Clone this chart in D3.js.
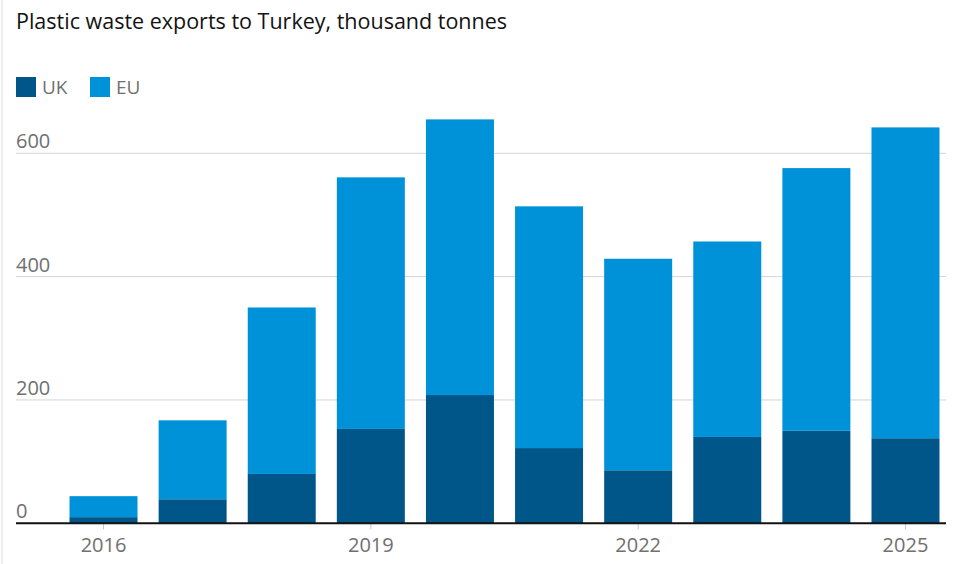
<!DOCTYPE html>
<html>
<head>
<meta charset="utf-8">
<script src="https://cdn.jsdelivr.net/npm/d3@7"></script>
<style>
  body { margin: 0; background: #fff; }
  text { font-family: "Open Sans", sans-serif; }
</style>
</head>
<body>
<div id="chart"></div>
<script>
// data, thousand tonnes
var years = ["2016", "2017", "2018", "2019", "2020", "2021", "2022", "2023", "2024", "2025"];
var ukValues = [10, 39, 80, 153, 208, 122, 86, 140, 150, 138];
var euValues = [34, 128, 270, 408, 447, 392, 343, 317, 426, 504];
var yTicks = [0, 200, 400, 600];
var xTickLabels = ["2016", "2019", "2022", "2025"];
var seriesNames = ["UK", "EU"];
var colors = ["#005689", "#0092d8"];

var width = 956, height = 564;

var svg = d3.select("#chart").append("svg")
    .attr("width", width)
    .attr("height", height);

// left border line
svg.append("line")
    .attr("x1", 2).attr("x2", 2)
    .attr("y1", 0).attr("y2", height)
    .attr("stroke", "#dcdcdc").attr("stroke-width", 1);

// title
svg.append("text")
    .attr("x", 16).attr("y", 29)
    .attr("font-size", 21.5)
    .attr("fill", "#121212")
    .text("Plastic waste exports to Turkey, thousand tonnes");

// legend
var legend = svg.selectAll("g.legend")
    .data(seriesNames).enter()
    .append("g")
    .attr("class", "legend")
    .attr("transform", function(d, i) { return "translate(" + (16 + i * 74) + ",77)"; });
legend.append("rect")
    .attr("width", 20).attr("height", 20)
    .attr("fill", function(d, i) { return colors[i]; });
legend.append("text")
    .attr("x", 26).attr("y", 17)
    .attr("font-size", 19)
    .attr("fill", "#707070")
    .text(function(d) { return d; });

// scales
var x = d3.scaleBand()
    .domain(years)
    .range([59, 950])
    .paddingInner(0.237)
    .paddingOuter(0.118);

var y = d3.scaleLinear()
    .domain([0, 600])
    .range([523.3, 153.3]);

// gridlines + y labels
var grid = svg.selectAll("g.grid")
    .data(yTicks).enter()
    .append("g")
    .attr("class", "grid");
grid.filter(function(d) { return d != 0; })
    .append("line")
    .attr("x1", 16).attr("x2", 946)
    .attr("y1", function(d) { return y(d); })
    .attr("y2", function(d) { return y(d); })
    .attr("stroke", "#d4d4d4").attr("stroke-width", 1);
grid.append("text")
    .attr("x", 16)
    .attr("y", function(d) { return y(d) - 5; })
    .attr("font-size", 20)
    .attr("fill", "#707070")
    .text(function(d) { return d; });

// stacked bars
var rows = years.map(function(yr, i) { return { year: yr, UK: ukValues[i], EU: euValues[i] }; });
var stacked = d3.stack().keys(seriesNames)(rows);

svg.selectAll("g.series")
    .data(stacked).enter()
    .append("g")
    .attr("class", "series")
    .attr("fill", function(d, i) { return colors[i]; })
    .selectAll("rect")
    .data(function(d) { return d; }).enter()
    .append("rect")
    .attr("x", function(d) { return x(d.data.year); })
    .attr("width", x.bandwidth())
    .attr("y", function(d) { return y(d[1]); })
    .attr("height", function(d) { return y(d[0]) - y(d[1]); });

// x axis
var xAxis = d3.axisBottom(x)
    .tickValues(xTickLabels)
    .tickSize(6)
    .tickPadding(9);
var gx = svg.append("g")
    .attr("transform", "translate(0," + y(0) + ")")
    .call(xAxis);
gx.select(".domain").remove();
gx.selectAll(".tick line").attr("stroke", "#c8c8c8");
gx.selectAll(".tick text")
    .attr("font-size", 20)
    .attr("font-family", "Open Sans, sans-serif")
    .attr("fill", "#707070");

// baseline
svg.append("line")
    .attr("x1", 16).attr("x2", 946)
    .attr("y1", y(0)).attr("y2", y(0))
    .attr("stroke", "#121212").attr("stroke-width", 2);
</script>
</body>
</html>
